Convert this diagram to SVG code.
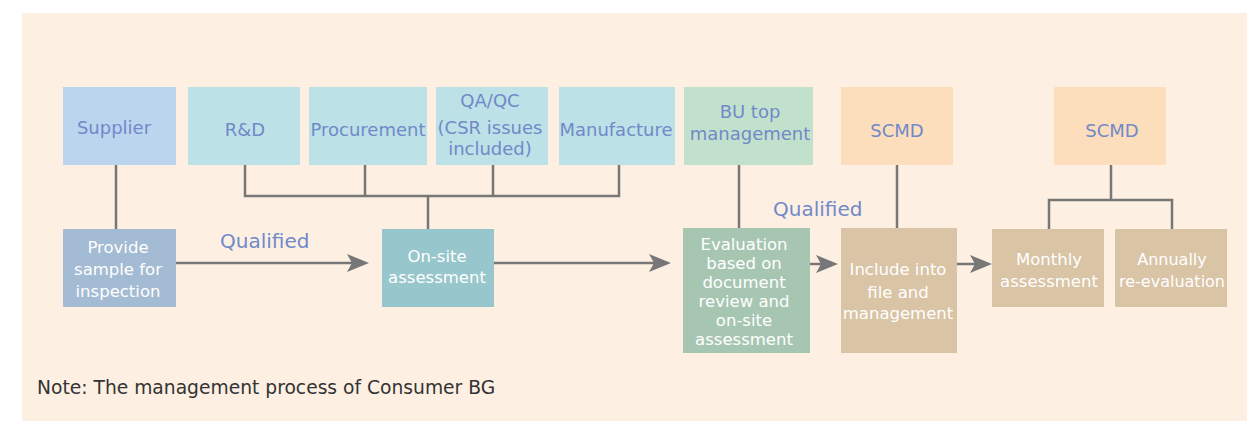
<svg xmlns="http://www.w3.org/2000/svg" width="1247" height="421" viewBox="0 0 1247 421">
<style>
.top{font-family:"DejaVu Sans","Liberation Sans",sans-serif;font-size:18px;fill:#7189C9;text-anchor:middle}
.wt{font-family:"DejaVu Sans","Liberation Sans",sans-serif;font-size:16.5px;fill:#FFFFFF;text-anchor:middle}
.q{font-family:"DejaVu Sans","Liberation Sans",sans-serif;font-size:20px;fill:#7189C9}
.note{font-family:"DejaVu Sans","Liberation Sans",sans-serif;font-size:18.7px;fill:#333333}
.ln{stroke:#777777;stroke-width:2.5;fill:none}
</style>
<defs>
<marker id="ah" viewBox="0 0 22 18" refX="14" refY="9" markerWidth="22" markerHeight="18" markerUnits="userSpaceOnUse" orient="auto">
<path d="M0,0 L22,9 L0,18 L5,9 Z" fill="#777777"/>
</marker>
</defs>
<rect x="22" y="13" width="1225" height="408" fill="#FDF0E3"/>

<g id="connectors">
<line class="ln" x1="116" y1="165" x2="116" y2="229"/>
<polyline class="ln" points="245,165 245,196 619,196 619,165"/>
<line class="ln" x1="365" y1="165" x2="365" y2="196"/>
<line class="ln" x1="493" y1="165" x2="493" y2="196"/>
<line class="ln" x1="428" y1="196" x2="428" y2="229"/>
<line class="ln" x1="739" y1="165" x2="739" y2="228"/>
<line class="ln" x1="897" y1="165" x2="897" y2="228"/>
<line class="ln" x1="1111" y1="165" x2="1111" y2="200"/>
<polyline class="ln" points="1049,229 1049,200 1172,200 1172,229"/>
<line class="ln" x1="176" y1="263" x2="361" y2="263" marker-end="url(#ah)"/>
<line class="ln" x1="494" y1="263" x2="663" y2="263" marker-end="url(#ah)"/>
<line class="ln" x1="810" y1="264" x2="830" y2="264" marker-end="url(#ah)"/>
<line class="ln" x1="957" y1="264" x2="984" y2="264" marker-end="url(#ah)"/>
</g>

<g id="supplier"><rect x="63" y="87" width="113" height="78" fill="#BBD5EF"/><text class="top" x="114" y="134">Supplier</text></g>
<g id="rd"><rect x="188" y="87" width="112" height="78" fill="#BCE1E6"/><text class="top" x="245" y="136">R&amp;D</text></g>
<g id="procurement"><rect x="309" y="87" width="118" height="78" fill="#BCE1E6"/><text class="top" x="368" y="136">Procurement</text></g>
<g id="qaqc"><rect x="436" y="87" width="112" height="78" fill="#BCE1E6"/><text class="top" x="490" y="107">QA/QC</text><text class="top" x="490" y="134">(CSR issues</text><text class="top" x="490" y="155">included)</text></g>
<g id="manufacture"><rect x="559" y="87" width="116" height="78" fill="#BCE1E6"/><text class="top" x="616" y="136">Manufacture</text></g>
<g id="butop"><rect x="684" y="87" width="129" height="78" fill="#C2E1CD"/><text class="top" x="750" y="118">BU top</text><text class="top" x="750" y="140">management</text></g>
<g id="scmd1"><rect x="841" y="87" width="112" height="78" fill="#FCDDBC"/><text class="top" x="897" y="137">SCMD</text></g>
<g id="scmd2"><rect x="1054" y="87" width="112" height="78" fill="#FCDDBC"/><text class="top" x="1112" y="137">SCMD</text></g>

<g id="provide"><rect x="63" y="229" width="113" height="78" fill="#A3BBD3"/><text class="wt" x="118" y="253">Provide</text><text class="wt" x="118" y="275">sample for</text><text class="wt" x="118" y="297">inspection</text></g>
<g id="onsite"><rect x="382" y="229" width="112" height="78" fill="#97C6CC"/><text class="wt" x="437" y="262">On-site</text><text class="wt" x="437" y="283">assessment</text></g>
<g id="evaluation"><rect x="683" y="228" width="127" height="125" fill="#A7C6B2"/><text class="wt" x="744" y="250">Evaluation</text><text class="wt" x="744" y="269">based on</text><text class="wt" x="744" y="288">document</text><text class="wt" x="744" y="307">review and</text><text class="wt" x="744" y="326">on-site</text><text class="wt" x="744" y="345">assessment</text></g>
<g id="include"><rect x="841" y="228" width="116" height="125" fill="#D9C4A6"/><text class="wt" x="898" y="275">Include into</text><text class="wt" x="898" y="298">file and</text><text class="wt" x="898" y="319">management</text></g>
<g id="monthly"><rect x="992" y="229" width="112" height="78" fill="#D9C4A6"/><text class="wt" x="1049" y="265">Monthly</text><text class="wt" x="1049" y="287">assessment</text></g>
<g id="annually"><rect x="1115" y="229" width="112" height="78" fill="#D9C4A6"/><text class="wt" x="1172" y="265" style="font-size:16px">Annually</text><text class="wt" x="1172" y="287" style="font-size:16px">re-evaluation</text></g>

<text class="q" x="220" y="248">Qualified</text>
<text class="q" x="773" y="216">Qualified</text>
<text class="note" x="37" y="394">Note: The management process of Consumer BG</text>
</svg>
